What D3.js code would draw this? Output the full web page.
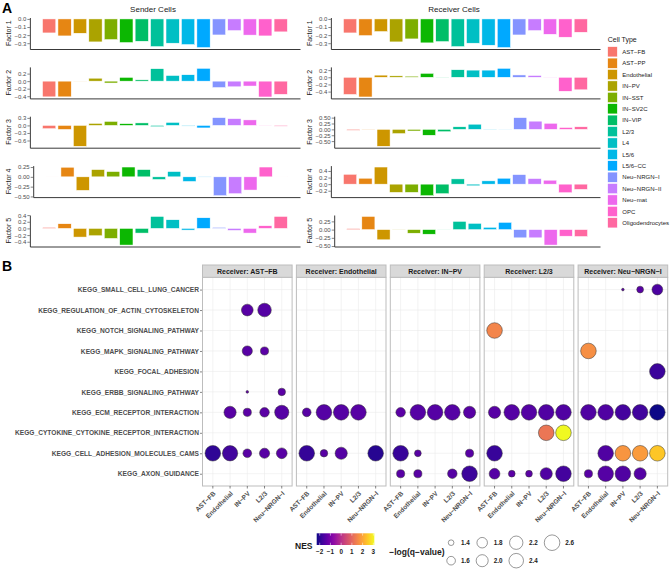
<!DOCTYPE html>
<html><head><meta charset="utf-8">
<script src="https://cdn.jsdelivr.net/npm/d3@7"></script>
<style>body{margin:0;background:#fff}svg{font-family:"Liberation Sans",Arial,sans-serif}</style>
</head><body><svg id="c" width="672" height="577"></svg>
<script>
// ---------------- DATA ----------------
const cellTypes = ["AST-FB","AST-PP","Endothelial","IN-PV","IN-SST","IN-SV2C","IN-VIP","L2/3","L4","L5/6","L5/6-CC","Neu-NRGN-I","Neu-NRGN-II","Neu-mat","OPC","Oligodendrocytes"];
const factorNames = ["Factor 1","Factor 2","Factor 3","Factor 4","Factor 5"];

const sender1 = [-0.173,-0.21,-0.177,-0.284,-0.255,-0.292,-0.276,-0.342,-0.30,-0.317,-0.354,-0.198,-0.144,-0.20,-0.21,-0.16];
const sender2 = [-0.417,-0.417,-0.003,0.078,-0.05,0.10,0.035,0.33,0.15,0.17,0.34,-0.17,-0.15,-0.13,-0.42,-0.35];
const sender3 = [-0.13,-0.16,-0.83,0.08,0.16,0.07,0.10,-0.05,0.12,-0.025,-0.10,0.31,0.27,0.22,-0.02,-0.03];
const sender4 = [0.005,0.245,-0.345,0.185,0.135,0.25,0.185,-0.067,0.135,-0.118,-0.005,-0.48,-0.43,-0.337,0.25,0.003];
const sender5 = [0.03,0.14,-0.26,-0.22,-0.30,-0.50,-0.14,0.36,0.26,-0.05,0.32,0.03,-0.06,-0.14,0.08,0.36];

const receiver1 = [-0.173,-0.206,-0.156,-0.284,-0.247,-0.296,-0.28,-0.342,-0.30,-0.325,-0.354,-0.198,-0.144,-0.19,-0.226,-0.165];
const receiver2 = [-0.48,-0.55,0.06,0.04,0.03,0.11,0.005,0.21,0.20,0.20,0.25,0.065,0.05,0.005,-0.39,-0.35];
const receiver3 = [-0.04,0.01,-0.72,-0.18,-0.07,-0.25,-0.10,0.11,0.22,-0.01,-0.005,0.50,0.35,0.26,0.08,0.11];
const receiver4 = [0.30,0.18,0.52,-0.25,-0.25,-0.35,-0.29,0.16,-0.05,0.10,0.18,0.29,0.17,0.12,-0.26,-0.16];
const receiver5 = [0.03,0.40,-0.31,0.005,-0.11,-0.14,-0.01,0.25,0.19,0.07,0.22,-0.25,-0.25,-0.47,-0.20,-0.21];

const senderTicks = [[0,-0.1,-0.2,-0.3],[0.2,0,-0.2,-0.4],[0.3,0,-0.3,-0.6],[0.25,0,-0.25,-0.5],[0.4,0.2,0,-0.2,-0.4]];
const receiverTicks = [[0,-0.1,-0.2,-0.3],[0.2,0,-0.2,-0.4],[0.5,0.25,0,-0.25,-0.5],[0.4,0.2,0,-0.2],[0.25,0,-0.25,-0.5]];

const receivers = ["AST-FB","Endothelial","IN-PV","L2/3","Neu-NRGN-I"];
const senders = ["AST-FB","Endothelial","IN-PV","L2/3","Neu-NRGN-I"];
const pathways = ["SMALL_CELL_LUNG_CANCER","REGULATION_OF_ACTIN_CYTOSKELETON","NOTCH_SIGNALING_PATHWAY","MAPK_SIGNALING_PATHWAY","FOCAL_ADHESION","ERBB_SIGNALING_PATHWAY","ECM_RECEPTOR_INTERACTION","CYTOKINE_CYTOKINE_RECEPTOR_INTERACTION","CELL_ADHESION_MOLECULES_CAMS","AXON_GUIDANCE"];

// [pathway, sender, NES, -log(q-value)]
const dotsAstFb = [
 ["REGULATION_OF_ACTIN_CYTOSKELETON","IN-PV",-1.45,1.96],
 ["REGULATION_OF_ACTIN_CYTOSKELETON","L2/3",-1.50,2.24],
 ["MAPK_SIGNALING_PATHWAY","IN-PV",-1.45,1.76],
 ["MAPK_SIGNALING_PATHWAY","L2/3",-1.40,1.56],
 ["ERBB_SIGNALING_PATHWAY","IN-PV",-1.35,1.33],
 ["ERBB_SIGNALING_PATHWAY","Neu-NRGN-I",-1.40,1.51],
 ["ECM_RECEPTOR_INTERACTION","Endothelial",-1.45,2.02],
 ["ECM_RECEPTOR_INTERACTION","IN-PV",-1.40,1.56],
 ["ECM_RECEPTOR_INTERACTION","L2/3",-1.40,1.69],
 ["ECM_RECEPTOR_INTERACTION","Neu-NRGN-I",-1.50,2.34],
 ["CELL_ADHESION_MOLECULES_CAMS","AST-FB",-1.95,2.60],
 ["CELL_ADHESION_MOLECULES_CAMS","Endothelial",-1.75,2.55],
 ["CELL_ADHESION_MOLECULES_CAMS","IN-PV",-1.45,1.61],
 ["CELL_ADHESION_MOLECULES_CAMS","L2/3",-1.45,1.76],
 ["CELL_ADHESION_MOLECULES_CAMS","Neu-NRGN-I",-1.45,1.83]
];
const dotsEndothelial = [
 ["ECM_RECEPTOR_INTERACTION","AST-FB",-1.45,1.61],
 ["ECM_RECEPTOR_INTERACTION","Endothelial",-1.50,2.60],
 ["ECM_RECEPTOR_INTERACTION","IN-PV",-1.50,2.60],
 ["ECM_RECEPTOR_INTERACTION","L2/3",-1.45,2.60],
 ["CELL_ADHESION_MOLECULES_CAMS","AST-FB",-1.90,2.60],
 ["CELL_ADHESION_MOLECULES_CAMS","Endothelial",-1.45,1.51],
 ["CELL_ADHESION_MOLECULES_CAMS","IN-PV",-1.50,2.02],
 ["CELL_ADHESION_MOLECULES_CAMS","Neu-NRGN-I",-2.05,2.60]
];
const dotsInPv = [
 ["ECM_RECEPTOR_INTERACTION","AST-FB",-1.40,1.69],
 ["ECM_RECEPTOR_INTERACTION","Endothelial",-1.50,2.60],
 ["ECM_RECEPTOR_INTERACTION","IN-PV",-1.50,2.60],
 ["ECM_RECEPTOR_INTERACTION","L2/3",-1.50,2.60],
 ["ECM_RECEPTOR_INTERACTION","Neu-NRGN-I",-1.45,2.02],
 ["CELL_ADHESION_MOLECULES_CAMS","AST-FB",-1.85,2.60],
 ["CELL_ADHESION_MOLECULES_CAMS","Endothelial",-1.45,1.46],
 ["CELL_ADHESION_MOLECULES_CAMS","Neu-NRGN-I",-1.45,1.56],
 ["AXON_GUIDANCE","AST-FB",-1.45,1.56],
 ["AXON_GUIDANCE","Endothelial",-1.45,1.56],
 ["AXON_GUIDANCE","L2/3",-1.50,1.69],
 ["AXON_GUIDANCE","Neu-NRGN-I",-1.80,2.60]
];
const dotsL23 = [
 ["NOTCH_SIGNALING_PATHWAY","AST-FB",1.50,2.60],
 ["ECM_RECEPTOR_INTERACTION","AST-FB",-1.45,2.02],
 ["ECM_RECEPTOR_INTERACTION","Endothelial",-1.50,2.60],
 ["ECM_RECEPTOR_INTERACTION","IN-PV",-1.50,2.60],
 ["ECM_RECEPTOR_INTERACTION","L2/3",-1.55,2.60],
 ["ECM_RECEPTOR_INTERACTION","Neu-NRGN-I",-1.55,2.60],
 ["CYTOKINE_CYTOKINE_RECEPTOR_INTERACTION","L2/3",1.25,2.60],
 ["CYTOKINE_CYTOKINE_RECEPTOR_INTERACTION","Neu-NRGN-I",3.09,2.60],
 ["CELL_ADHESION_MOLECULES_CAMS","AST-FB",-1.85,2.60],
 ["AXON_GUIDANCE","AST-FB",-1.50,1.83],
 ["AXON_GUIDANCE","Endothelial",-1.40,1.46],
 ["AXON_GUIDANCE","IN-PV",-1.40,1.46],
 ["AXON_GUIDANCE","L2/3",-1.55,2.02],
 ["AXON_GUIDANCE","Neu-NRGN-I",-1.70,2.60]
];
const dotsNeuNrgnI = [
 ["SMALL_CELL_LUNG_CANCER","IN-PV",-1.40,1.33],
 ["SMALL_CELL_LUNG_CANCER","L2/3",-1.45,1.46],
 ["SMALL_CELL_LUNG_CANCER","Neu-NRGN-I",-1.60,1.83],
 ["MAPK_SIGNALING_PATHWAY","AST-FB",1.65,2.60],
 ["FOCAL_ADHESION","Neu-NRGN-I",-1.80,2.60],
 ["ECM_RECEPTOR_INTERACTION","AST-FB",-1.55,2.60],
 ["ECM_RECEPTOR_INTERACTION","Endothelial",-1.55,2.60],
 ["ECM_RECEPTOR_INTERACTION","IN-PV",-1.70,2.60],
 ["ECM_RECEPTOR_INTERACTION","L2/3",-1.75,2.60],
 ["ECM_RECEPTOR_INTERACTION","Neu-NRGN-I",-2.28,2.60],
 ["CELL_ADHESION_MOLECULES_CAMS","Endothelial",-1.55,2.60],
 ["CELL_ADHESION_MOLECULES_CAMS","IN-PV",1.75,2.60],
 ["CELL_ADHESION_MOLECULES_CAMS","L2/3",1.85,2.60],
 ["CELL_ADHESION_MOLECULES_CAMS","Neu-NRGN-I",2.45,2.60],
 ["AXON_GUIDANCE","AST-FB",-1.45,1.56],
 ["AXON_GUIDANCE","Endothelial",-1.50,2.60],
 ["AXON_GUIDANCE","IN-PV",-1.55,2.60],
 ["AXON_GUIDANCE","L2/3",-1.50,2.02]
];
const nesTicks = [-2,-1,0,1,2,3];
const sizeBreaks = [1.4,1.6,1.8,2.0,2.2,2.4,2.6];

// ---------------- HELPERS ----------------
const svg = d3.select("#c");
const disp = s => s.replace(/-/g, "\u2212");
function measure(txt, size, weight){
  const t = svg.append("text").attr("font-size", size).attr("font-weight", weight || "normal").text(txt);
  const w = t.node().getComputedTextLength(); t.remove(); return w;
}
// R's hcl() (polar CIE-Luv) -> sRGB, as used by ggplot's hue palette
function hclR(h, c, l){
  const WY = 100, Wu = 0.1978398, Wv = 0.4683363;
  const hr = h * Math.PI / 180, U = c * Math.cos(hr), V = c * Math.sin(hr);
  const Y = WY * (l > 7.999592 ? Math.pow((l + 16) / 116, 3) : l / 903.3);
  const u = U / (13 * l) + Wu, v = V / (13 * l) + Wv;
  const X = 9 * Y * u / (4 * v), Z = -X / 3 - 5 * Y + 3 * Y / v;
  const g = x => { x = x / 100; x = x > 0.00304 ? 1.055 * Math.pow(x, 1 / 2.4) - 0.055 : 12.92 * x; return Math.round(255 * Math.max(0, Math.min(1, x))); };
  return d3.rgb(g(3.240479*X - 1.537150*Y - 0.498535*Z), g(-0.969256*X + 1.875992*Y + 0.041556*Z), g(0.055648*X - 0.204043*Y + 1.057311*Z)).formatHex();
}
const hueColors = cellTypes.map((d, i) => hclR(15 + i * 360 / cellTypes.length, 100, 65));
const fillScale = d3.scaleOrdinal().domain(cellTypes).range(hueColors);

// ---------------- PANEL A ----------------
svg.append("text").attr("x", 2).attr("y", 12.5).attr("font-size", 14).attr("font-weight", "bold").text("A");

const columns = [
  {x0: 0, right: 300, title: "Sender Cells", series: [sender1,sender2,sender3,sender4,sender5], ticks: senderTicks},
  {x0: 301, right: 600, title: "Receiver Cells", series: [receiver1,receiver2,receiver3,receiver4,receiver5], ticks: receiverTicks}
];
const rowTops = [17.5, 66.9, 116.2, 165.6, 215];
const panelH = 31.5;
const tickFont = 6;

columns.forEach(col => {
  svg.append("text").attr("x", col.x0 + 153).attr("y", 11.8).attr("text-anchor", "middle")
    .attr("font-size", 8).attr("fill", "#1a1a1a").text(col.title);
  col.series.forEach((vals, r) => {
    const ticks = col.ticks[r];
    const dec = d3.max(ticks, t => { const s = String(t); return s.includes(".") ? s.split(".")[1].length : 0; });
    const fmt = t => disp(t.toFixed(dec));
    const maxW = d3.max(ticks, t => measure(fmt(t), tickFont));
    const L = col.x0 + 14.5 + maxW + 3.5, R = col.right;
    const top = rowTops[r], bot = top + panelH;
    const lo = Math.min(0, d3.min(vals)), hi = Math.max(0, d3.max(vals));
    const pad = (hi - lo) * 0.05;
    const y = d3.scaleLinear().domain([lo - pad, hi + pad]).range([bot, top]);
    const x = d3.scaleBand().domain(cellTypes).range([L, R]).paddingInner(0.14).paddingOuter(0.82);
    const g = svg.append("g");
    g.selectAll("rect").data(vals).join("rect")
      .attr("x", (d, i) => x(cellTypes[i])).attr("width", x.bandwidth())
      .attr("y", d => y(Math.max(0, d))).attr("height", d => Math.abs(y(d) - y(0)))
      .attr("fill", (d, i) => fillScale(cellTypes[i])).attr("stroke", "#fff").attr("stroke-width", 0.5);
    const ya = g.append("g").attr("transform", `translate(${L},0)`)
      .call(d3.axisLeft(y).tickValues(ticks).tickFormat(fmt).tickSize(2.5).tickSizeOuter(0));
    ya.select(".domain").attr("stroke", "#222").attr("stroke-width", 0.9);
    ya.selectAll(".tick line").attr("stroke", "#333").attr("stroke-width", 0.6);
    ya.selectAll(".tick text").attr("font-size", tickFont).attr("fill", "#4d4d4d").attr("x", -3.5)
      .attr("font-family", '"Liberation Sans",Arial,sans-serif');
    const xa = g.append("g").attr("transform", `translate(0,${bot})`)
      .call(d3.axisBottom(x).tickFormat("").tickSize(0).tickSizeOuter(0));
    xa.select(".domain").attr("stroke", "#222").attr("stroke-width", 0.9);
    g.append("text").attr("transform", `translate(${col.x0 + 10.5},${(top + bot) / 2}) rotate(-90)`)
      .attr("text-anchor", "middle").attr("font-size", 7).attr("fill", "#1a1a1a").text(factorNames[r]);
  });
});

// Cell type legend
const lg = svg.append("g");
lg.append("text").attr("x", 607.7).attr("y", 41.5).attr("font-size", 7).attr("fill", "#1a1a1a").text("Cell Type");
cellTypes.forEach((ct, i) => {
  lg.append("rect").attr("x", 607.7).attr("y", 46.7 + i * 11.4).attr("width", 9.6).attr("height", 10.2)
    .attr("fill", fillScale(ct)).attr("stroke", "#fff").attr("stroke-width", 0.5);
  lg.append("text").attr("x", 622.3).attr("y", 51.8 + i * 11.4).attr("dy", "0.35em").attr("font-size", 6)
    .attr("fill", "#1a1a1a").text(disp(ct));
});

// ---------------- PANEL B ----------------
svg.append("text").attr("x", 2).attr("y", 271).attr("font-size", 14).attr("font-weight", "bold").text("B");

const dotSets = [dotsAstFb, dotsEndothelial, dotsInPv, dotsL23, dotsNeuNrgnI];
const allDots = dotSets.flat();
const nesExt = d3.extent(allDots, d => d[2]);
const qExt = d3.extent(allDots, d => d[3]);
const color = d3.scaleSequential(d3.interpolatePlasma).domain(nesExt);
const r0 = 1.3;
const sz = d3.scaleSqrt().domain([0, qExt[1] - qExt[0]]).range([0, 5]);
const radius = q => r0 * (1 + sz(Math.max(0, q - qExt[0])));

const stripTop = 265, stripH = 12.3, pTop = stripTop + stripH, pBot = 486;
const px0 = 202.5, pw = 89.6, gap = 4.3;
const yB = d3.scalePoint().domain(pathways).range([pTop, pBot]).padding(0.6);
// font size chosen so the longest pathway label spans the measured label column (x 15 to 199)
const longest = "KEGG_" + pathways.reduce((a, b) => (b.length > a.length ? b : a));
const bFont = 6.6 * 184 / measure(longest, 6.6, "bold");

// y axis labels
const yAxisG = svg.append("g").attr("transform", `translate(${px0},0)`)
  .call(d3.axisLeft(yB).tickSize(2.5).tickSizeOuter(0).tickFormat(p => "KEGG_" + p));
yAxisG.select(".domain").remove();
yAxisG.selectAll(".tick line").attr("stroke", "#333").attr("stroke-width", 0.6);
yAxisG.selectAll(".tick text").attr("font-size", bFont).attr("font-weight", "bold").attr("fill", "#4d4d4d")
  .attr("x", -3.5).attr("font-family", '"Liberation Sans",Arial,sans-serif');

receivers.forEach((rec, k) => {
  const x0 = px0 + k * (pw + gap);
  const xB = d3.scalePoint().domain(senders).range([x0, x0 + pw]).padding(0.6);
  const g = svg.append("g");
  // grid
  g.selectAll("line.h").data(pathways).join("line")
    .attr("x1", x0).attr("x2", x0 + pw).attr("y1", d => yB(d)).attr("y2", d => yB(d))
    .attr("stroke", "#ebebeb").attr("stroke-width", 0.6);
  g.selectAll("line.v").data(senders).join("line")
    .attr("y1", pTop).attr("y2", pBot).attr("x1", d => xB(d)).attr("x2", d => xB(d))
    .attr("stroke", "#ebebeb").attr("stroke-width", 0.6);
  // dots
  g.selectAll("circle").data(dotSets[k]).join("circle")
    .attr("cx", d => xB(d[1])).attr("cy", d => yB(d[0])).attr("r", d => radius(d[3]))
    .attr("fill", d => color(d[2])).attr("stroke", "#333").attr("stroke-width", 0.5);
  // border
  g.append("rect").attr("x", x0).attr("y", pTop).attr("width", pw).attr("height", pBot - pTop)
    .attr("fill", "none").attr("stroke", "#bdbdbd").attr("stroke-width", 1);
  // strip
  g.append("rect").attr("x", x0).attr("y", stripTop).attr("width", pw).attr("height", stripH)
    .attr("fill", "#d9d9d9").attr("stroke", "#bdbdbd").attr("stroke-width", 1);
  g.append("text").attr("x", x0 + pw / 2).attr("y", stripTop + stripH / 2).attr("dy", "0.36em")
    .attr("text-anchor", "middle").attr("font-size", 7).attr("font-weight", "bold").attr("fill", "#1a1a1a")
    .text("Receiver: " + disp(rec));
  // x axis ticks + labels
  senders.forEach(s => {
    g.append("line").attr("x1", xB(s)).attr("x2", xB(s)).attr("y1", pBot).attr("y2", pBot + 2.5)
      .attr("stroke", "#333").attr("stroke-width", 0.6);
    g.append("text").attr("transform", `translate(${xB(s) + 3.2},${pBot + 8})rotate(-45)`)
      .attr("text-anchor", "end").attr("font-size", 6.5).attr("font-weight", "bold").attr("fill", "#4d4d4d")
      .text(disp(s));
  });
});

// NES colour bar legend
const cb = svg.append("g");
const cbX = d3.scaleLinear().domain(nesExt).range([316.7, 374.3]);
const defs = svg.append("defs");
const grad = defs.append("linearGradient").attr("id", "nesGrad");
d3.range(0, 1.0001, 0.05).forEach(t => grad.append("stop").attr("offset", t).attr("stop-color", d3.interpolatePlasma(t)));
cb.append("text").attr("x", 295).attr("y", 548.5).attr("font-size", 8.5).attr("font-weight", "bold").attr("fill", "#1a1a1a").text("NES");
cb.append("rect").attr("x", cbX.range()[0]).attr("y", 533.3).attr("width", cbX.range()[1] - cbX.range()[0]).attr("height", 11.7)
  .attr("fill", "url(#nesGrad)");
nesTicks.forEach(t => {
  cb.append("line").attr("x1", cbX(t)).attr("x2", cbX(t)).attr("y1", 533.3).attr("y2", 535.6).attr("stroke", "#fff").attr("stroke-width", 0.5);
  cb.append("line").attr("x1", cbX(t)).attr("x2", cbX(t)).attr("y1", 542.7).attr("y2", 545).attr("stroke", "#fff").attr("stroke-width", 0.5);
  cb.append("text").attr("x", cbX(t)).attr("y", 554.2).attr("text-anchor", "middle").attr("font-size", 6.3)
    .attr("font-weight", "bold").attr("fill", "#1a1a1a").text(disp(String(t)));
});

// size legend
const sl = svg.append("g");
sl.append("text").attr("x", 389.3).attr("y", 554.7).attr("font-size", 8.5).attr("font-weight", "bold").attr("fill", "#1a1a1a")
  .text("\u2212log(q\u2212value)");
const rowsY = [542.7, 560.7];
const nCols = Math.ceil(sizeBreaks.length / 2);
let cx = 446.8;
for (let c = 0; c < nCols; c++) {
  const items = sizeBreaks.slice(c * 2, c * 2 + 2);
  const rmax = d3.max(items, radius);
  const center = cx + rmax;
  let labelEnd = 0;
  items.forEach((v, j) => {
    sl.append("circle").attr("cx", center).attr("cy", rowsY[j]).attr("r", radius(v))
      .attr("fill", "#fff").attr("stroke", "#333").attr("stroke-width", 0.5);
    const lx = center + rmax + 5.5;
    sl.append("text").attr("x", lx).attr("y", rowsY[j]).attr("dy", "0.35em").attr("font-size", 6.3)
      .attr("font-weight", "bold").attr("fill", "#1a1a1a").text(v.toFixed(1));
    labelEnd = Math.max(labelEnd, lx + measure(v.toFixed(1), 6.3, "bold"));
  });
  cx = labelEnd + 6.5;
}
</script></body></html>
